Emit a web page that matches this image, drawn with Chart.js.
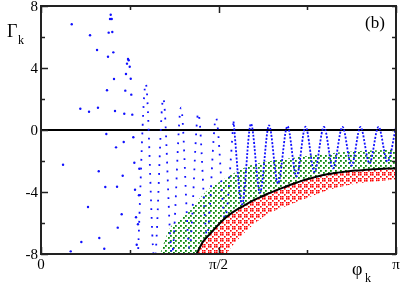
<!DOCTYPE html>
<html>
<head>
<meta charset="utf-8">
<script src="https://cdn.jsdelivr.net/npm/chart.js@4"></script>
<style>
  body { margin: 0; background: #fff; }
  #wrap { width: 403px; height: 283px; }
</style>
</head>
<body>
<div id="wrap"><canvas id="gammaChart" width="403" height="283"></canvas></div>
<script>
// x values are phi_k in radians, y values are Gamma_k

const blackCurve = [
  [1.376, -8.0], [1.434, -7.2], [1.496, -6.7], [1.558, -6.2], [1.628, -5.7],
  [1.699, -5.3], [1.779, -4.95], [1.850, -4.65], [1.920, -4.4], [2.000, -4.13],
  [2.071, -3.92], [2.150, -3.7], [2.221, -3.5], [2.301, -3.3], [2.381, -3.13],
  [2.487, -2.92], [2.628, -2.75], [2.779, -2.62], [2.929, -2.54], [3.142, -2.46]
];

const redLow = [
  [1.376, -8.0], [1.628, -8.0], [1.690, -7.5], [1.805, -6.6], [1.938, -5.75],
  [2.071, -5.2], [2.221, -4.75], [2.381, -4.3], [2.531, -3.9], [2.690, -3.6],
  [2.823, -3.42], [2.982, -3.3], [3.142, -3.2]
];

const greenTop = [
  [1.053, -8.0], [1.142, -6.3], [1.230, -5.8], [1.319, -5.2], [1.381, -4.6],
  [1.469, -3.9], [1.558, -3.45], [1.646, -3.05], [1.779, -2.5], [1.920, -2.15],
  [2.071, -1.95], [2.221, -1.8], [2.381, -1.65], [2.628, -1.45], [2.823, -1.35],
  [3.142, -1.28]
];
const greenFloor = [[1.053, -8.0]];

// oscillation extremes, sparse part then dense part
const blueFar = [
  [0.854, -8.8], [0.927, 3.0], [1.004, -8.5], [1.082, 2.05], [1.159, -8.0],
  [1.239, 1.45], [1.314, -7.6], [1.392, 1.08], [1.469, -6.8], [1.549, 0.78],
  [1.628, -5.7], [1.704, 0.55]
];
const blueNear = [
  [1.704, 0.55], [1.779, -4.8], [1.858, 0.4], [1.938, -4.05], [2.018, 0.3],
  [2.097, -3.45], [2.181, 0.25], [2.261, -3.0], [2.341, 0.22], [2.420, -2.7],
  [2.504, 0.2], [2.584, -2.48], [2.668, 0.2], [2.748, -2.3], [2.827, 0.2],
  [2.907, -2.15], [2.987, 0.2], [3.066, -2.05], [3.142, 0.2]
];

const blueDots = [
  [0.617, 7.44], [0.611, 7.16], [0.626, 7.16], [0.272, 6.82], [0.599, 6.28],
  [0.631, 6.32], [0.434, 6.11], [0.496, 5.16], [0.640, 5.01], [0.593, 4.73],
  [0.770, 4.58], [0.776, 4.50], [0.761, 4.28], [0.785, 4.08], [0.752, 3.61],
  [0.794, 3.31], [0.646, 3.29], [0.584, 2.56], [0.746, 2.54], [0.799, 2.28],
  [0.348, 1.37], [0.425, 1.18], [0.504, 1.44], [0.655, 1.23], [0.737, 1.05],
  [0.808, 0.99], [0.578, -0.26], [0.817, -0.47], [0.732, -0.77], [0.664, -1.12],
  [0.195, -2.24], [0.826, -2.11], [0.870, -2.50], [0.511, -2.66], [0.723, -2.95],
  [0.569, -3.68], [0.673, -3.66], [0.832, -3.85], [0.867, -4.21], [0.416, -4.97],
  [0.714, -5.44], [0.841, -5.63], [0.858, -6.08], [0.679, -6.30], [0.516, -6.97],
  [0.357, -7.23], [0.560, -7.66], [0.847, -7.40], [0.263, -7.83]
];

const xTicks = [0, Math.PI / 4, Math.PI / 2, 3 * Math.PI / 4, Math.PI];
const xTickLabels = ['0', '', 'π/2', '', 'π'];
const yTicks = [8, 6, 4, 2, 0, -2, -4, -6, -8];
const yTickLabels = ['8', '', '4', '', '0', '', '-4', '', '-8'];

const serif = '"Liberation Serif", "DejaVu Serif", serif';
const xy = arr => arr.map(([x, y]) => ({ x, y }));

function dotPattern(color, size, dots, d) {
  const c = document.createElement('canvas');
  c.width = c.height = size;
  const g = c.getContext('2d');
  g.fillStyle = color;
  dots.forEach(([px, py]) => g.fillRect(px, py, d, d));
  return g.createPattern(c, 'repeat');
}
const greenFill = dotPattern('#0b8a0b', 5, [[0, 0], [3, 2]], 1.8);
const redFill = dotPattern('#ff0000', 6, [[0, 0], [4, 0], [0, 4], [2, 2], [4, 4]], 1.6);

const frame = {
  id: 'frame',
  beforeDatasetsDraw(chart) {
    const { ctx, chartArea: a, scales: { y } } = chart;
    const y0 = y.getPixelForValue(0);
    ctx.save();
    ctx.strokeStyle = '#000';
    ctx.lineWidth = 2;
    ctx.beginPath();
    ctx.moveTo(a.left, y0);
    ctx.lineTo(a.right, y0);
    ctx.stroke();
    ctx.restore();
  },
  afterDraw(chart) {
    const { ctx, chartArea: a, scales: { x, y } } = chart;
    ctx.save();
    ctx.strokeStyle = '#222';
    ctx.lineWidth = 2;
    ctx.strokeRect(a.left, a.top, a.right - a.left, a.bottom - a.top);
    ctx.lineWidth = 1.5;
    ctx.beginPath();
    xTicks.forEach((v, i) => {
      const px = Math.round(x.getPixelForValue(v)) + 0.5;
      const len = xTickLabels[i] ? 7 : 4;
      ctx.moveTo(px, a.bottom); ctx.lineTo(px, a.bottom - len);
      ctx.moveTo(px, a.top); ctx.lineTo(px, a.top + len);
    });
    yTicks.forEach((v, i) => {
      const py = Math.round(y.getPixelForValue(v)) + 0.5;
      const len = yTickLabels[i] ? 7 : 4;
      ctx.moveTo(a.left, py); ctx.lineTo(a.left + len, py);
      ctx.moveTo(a.right, py); ctx.lineTo(a.right - 4, py);
    });
    ctx.stroke();

    ctx.fillStyle = '#000';
    ctx.font = '15px ' + serif;
    ctx.textAlign = 'right';
    ctx.textBaseline = 'middle';
    yTicks.forEach((v, i) => {
      if (yTickLabels[i]) ctx.fillText(yTickLabels[i], a.left - 3, y.getPixelForValue(v) + 1);
    });
    ctx.textAlign = 'center';
    ctx.textBaseline = 'alphabetic';
    xTicks.forEach((v, i) => {
      if (xTickLabels[i]) ctx.fillText(xTickLabels[i], x.getPixelForValue(v), 269);
    });

    ctx.textAlign = 'left';
    ctx.font = '18px ' + serif;
    ctx.fillText('Γ', 7, 37);
    ctx.fillText('φ', 352, 275);
    ctx.font = '17px ' + serif;
    ctx.fillText('(b)', 365, 28);
    ctx.font = '12px ' + serif;
    ctx.fillText('k', 18, 44);
    ctx.fillText('k', 365, 282);
    ctx.restore();
  }
};

const ctx = document.getElementById('gammaChart').getContext('2d');
new Chart(ctx, {
  type: 'line',
  data: {
    datasets: [
      {
        label: 'black',
        data: xy(blackCurve),
        borderColor: '#000',
        borderWidth: 2,
        pointRadius: 0,
        cubicInterpolationMode: 'monotone',
        fill: { target: 5 },
        backgroundColor: redFill,
        clip: 0
      },
      {
        label: 'blue near',
        data: xy(blueNear),
        borderColor: '#1010ff',
        borderWidth: 1.8,
        borderDash: [2, 1.6],
        pointRadius: 0,
        cubicInterpolationMode: 'monotone',
        fill: false,
        clip: 0
      },
      {
        label: 'blue far',
        data: xy(blueFar),
        borderColor: '#1010ff',
        borderWidth: 1.8,
        borderDash: [1.8, 7],
        pointRadius: 0,
        cubicInterpolationMode: 'monotone',
        fill: false,
        clip: 0
      },
      {
        label: 'blue dots',
        data: xy(blueDots),
        showLine: false,
        pointRadius: 1.2,
        pointBorderWidth: 0,
        pointBackgroundColor: '#1010ff',
        clip: 0
      },
      {
        label: 'green top',
        data: xy(greenTop),
        borderWidth: 0,
        borderColor: 'rgba(0,0,0,0)',
        pointRadius: 0,
        cubicInterpolationMode: 'monotone',
        fill: { target: 6 },
        backgroundColor: greenFill,
        clip: 0
      },
      {
        label: 'red low',
        data: xy(redLow),
        borderWidth: 0,
        borderColor: 'rgba(0,0,0,0)',
        pointRadius: 0,
        cubicInterpolationMode: 'monotone',
        fill: false,
        clip: 0
      },
      {
        label: 'green low',
        data: xy(greenFloor.concat(blackCurve)),
        borderWidth: 0,
        borderColor: 'rgba(0,0,0,0)',
        pointRadius: 0,
        cubicInterpolationMode: 'monotone',
        fill: false,
        clip: 0
      }
    ]
  },
  options: {
    responsive: false,
    animation: false,
    layout: { padding: { left: 41, top: 6, right: 7, bottom: 29 } },
    plugins: {
      legend: { display: false },
      tooltip: { enabled: false },
      filler: { drawTime: 'beforeDatasetsDraw' }
    },
    scales: {
      x: { type: 'linear', min: 0, max: Math.PI, display: false },
      y: { min: -8, max: 8, display: false }
    }
  },
  plugins: [frame]
});
</script>
</body>
</html>
